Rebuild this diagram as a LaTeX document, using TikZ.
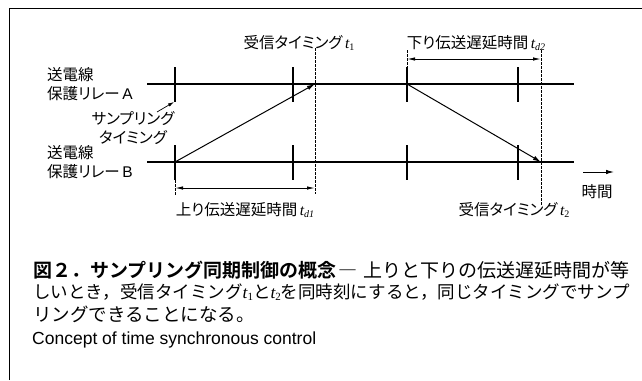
\documentclass[tikz,border=0pt]{standalone}
\usepackage{fontspec}
\setmainfont{Noto Sans CJK JP}[BoldFont={Noto Sans CJK JP Bold}]
\newfontfamily\jpp{Noto Sans CJK JP}[RawFeature=+palt]
\newfontfamily\lat{Liberation Sans}
\newfontfamily\ser{Liberation Serif}
\usetikzlibrary{arrows.meta}
\newcommand{\tsub}[1]{{\ser\itshape t}{\ser\fontsize{10}{10}\selectfont\raisebox{-1.5pt}{#1}}}
\newcommand{\tdd}[1]{{\ser\itshape t}{\ser\itshape\fontsize{10}{10}\selectfont\raisebox{-1.5pt}{d#1}}}
\newcommand{\csub}[1]{{\ser\itshape t}{\ser\fontsize{11}{11}\selectfont\raisebox{-2pt}{#1}}}
\begin{document}
\begin{tikzpicture}[x=1pt,y=-1pt,
  tl/.style={line width=1.2pt},
  dl/.style={line width=0.6pt,dash pattern=on 2.5pt off 1.5pt},
  arr/.style={line width=1pt,-{Latex[length=8pt,width=4.5pt]}},
  darr/.style={line width=1pt,{Latex[length=8pt,width=3.5pt]}-{Latex[length=8pt,width=3.5pt]}},
  lbl/.style={inner sep=0pt,font=\jpp\fontsize{15.5}{17}\selectfont},
  captxt/.style={inner sep=0pt,anchor=west,font=\fontsize{18.5}{20}\selectfont}]
\useasboundingbox (0,0) rectangle (642,380);
% frame
\draw[line width=0.8pt] (9,380) -- (9,8) -- (642,8);
% coordinates
\coordinate (A0) at (147,84); \coordinate (A1) at (574,84);
\coordinate (B0) at (147,162); \coordinate (B1) at (574,162);
\coordinate (a1) at (175,84); \coordinate (a4) at (407,84);
\coordinate (b1) at (175,162); \coordinate (b4) at (541,162);
\coordinate (r1) at (315,84);
% main lines
\draw[tl] (A0) -- (A1);
\draw[tl] (B0) -- (B1);
% ticks
\foreach \x in {175,293,407,518}{
  \draw[tl] (\x,67) -- (\x,102);
  \draw[tl] (\x,145) -- (\x,180);
}
% dashed
\draw[dl] (315,48) -- (315,194);
\draw[dl] (175,180) -- (175,196);
\draw[dl] (407,50) -- (407,67);
\draw[dl] (541,50) -- (541,205);
% dimension arrows
\coordinate (d1a) at (175,188); \coordinate (d1b) at (315,188);
\coordinate (d2a) at (407,59); \coordinate (d2b) at (541,59);
\draw[darr] (d1a) -- (d1b);
\draw[darr] (d2a) -- (d2b);
% signal arrows
\draw[arr] (b1) -- (r1);
\draw[arr] (a4) -- (b4);
% time arrow
\coordinate (t0) at (583,172); \coordinate (t1) at (614,172);
\draw[arr] (t0) -- (t1);
% sampling arrow
\coordinate (s0) at (157,112); \coordinate (s1) at (174,102);
\draw[line width=0.7pt,-{Latex[length=6pt,width=3.5pt]}] (s0) -- (s1);
% labels
\node[lbl,anchor=west] (la1) at (47,75) {送電線};
\node[lbl,anchor=west] (la2) at (47,94) {保護リレー\,{\lat A}};
\node[lbl,anchor=west] (lb1) at (47,153) {送電線};
\node[lbl,anchor=west] (lb2) at (47,172) {保護リレー\,{\lat B}};
\node[lbl] (ls1) at (133,119) {サンプリング};
\node[lbl] (ls2) at (133,138) {タイミング};
\node[lbl] (lt1) at (299,43) {受信タイミング\,\tsub{1}};
\node[lbl] (ltd2) at (476,43) {下り伝送遅延時間\,\tdd{2}};
\node[lbl] (ltd1) at (245,210) {上り伝送遅延時間\,\tdd{1}};
\node[lbl] (lt2) at (514,210) {受信タイミング\,\tsub{2}};
\node[lbl] (ltime) at (597,192) {時間};
% caption
\node[captxt,font=\fontsize{19}{21}\selectfont] (c1) at (33,270) {\textbf{図２．サンプリング同期制御の概念}\kern2pt―\kern6pt 上りと下りの伝送遅延時間が等};
\node[captxt,font=\fontsize{17.5}{20}\selectfont] (c2) at (33,292) {しいとき，受信タイミング\csub{1}と\csub{2}を同時刻にすると，同じタイミングでサンプ};
\node[captxt] (c3) at (33,314) {リングできることになる。};
\node[captxt,font=\lat\fontsize{17.5}{19}\selectfont] (c4) at (32,340) {Concept of time synchronous control};
\end{tikzpicture}
\end{document}
